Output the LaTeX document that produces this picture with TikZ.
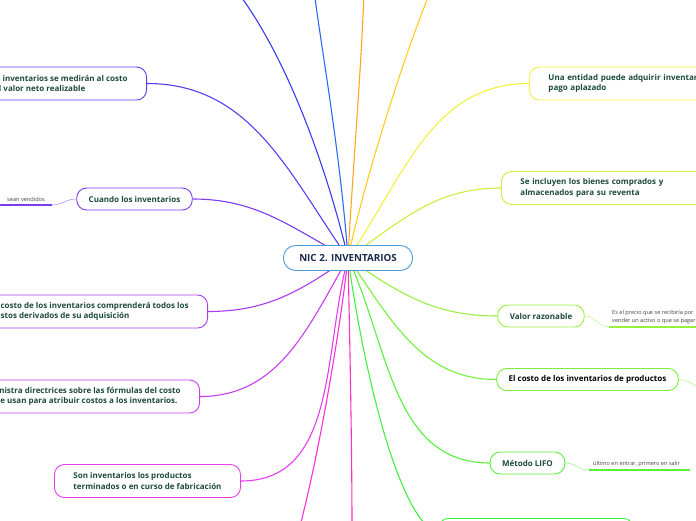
\documentclass[tikz,border=0pt]{standalone}
\usepackage{fontspec}
\setmainfont{Open Sans}
\usetikzlibrary{positioning}

\definecolor{txtgreen}{HTML}{1D4A3C}
\definecolor{txtnavy}{HTML}{1A2A4A}
\definecolor{hubblue}{HTML}{4A9AD8}
\definecolor{cmedir}{HTML}{5A3CF0}
\definecolor{ccuando}{HTML}{7C3CF0}
\definecolor{ccompr}{HTML}{A83CF0}
\definecolor{cformu}{HTML}{C83CF0}
\definecolor{cprod}{HTML}{E63CF0}
\definecolor{cpinka}{HTML}{FF30D8}
\definecolor{cpinkb}{HTML}{FF30C0}
\definecolor{cbottom}{HTML}{40F040}
\definecolor{clifo}{HTML}{58F03C}
\definecolor{ccost}{HTML}{78F03C}
\definecolor{crazon}{HTML}{98F03C}
\definecolor{cbienes}{HTML}{C8F03C}
\definecolor{cpago}{HTML}{F2F23C}
\definecolor{cgold}{HTML}{FFCC22}
\definecolor{corange}{HTML}{FFA620}
\definecolor{cblue}{HTML}{2A6AF8}
\definecolor{cdeep}{HTML}{3A3AF0}

\tikzset{
  topic/.style={draw, fill=white, rounded corners=10pt, line width=0.9pt,
    font=\bfseries\fontsize{8}{10.5}\selectfont, text=txtgreen,
    inner xsep=12pt, inner ysep=2pt, minimum height=22pt},
  longtopic/.style={topic, align=left, inner xsep=19pt, minimum height=33pt},
  link/.style={line width=1.1pt},
  note/.style={font=\fontsize{5.6}{7.6}\selectfont, text=black!75, align=left, inner sep=1pt},
  underline/.style={line width=1.5pt},
}

\begin{document}
\begin{tikzpicture}[x=1pt, y=1pt]
    \useasboundingbox (0,0) rectangle (696,-520);
    \coordinate (hub) at (348,-258);

    % Ramas de la izquierda
    \node[longtopic, draw=cmedir, anchor=east] (medir) at (147,-83.5)
       {Los inventarios se medirán al costo\\o al valor neto realizable};
    \node[topic, draw=ccuando] (cuando) at (134.5,-199) {Cuando los inventarios};
    \node[longtopic, draw=ccompr, anchor=east] (compr) at (208,-311.5)
       {El costo de los inventarios comprenderá todos los\\costos derivados de su adquisición};
    \node[longtopic, draw=cformu, anchor=east] (formu) at (200,-396.5)
       {Suministra directrices sobre las fórmulas del costo\\que se usan para atribuir costos a los inventarios.};
    \node[longtopic, draw=cprod, anchor=west] (prod) at (54,-481)
       {Son inventarios los productos\\terminados o en curso de fabricación};

    % Ramas de la derecha
    \node[longtopic, draw=cpago, anchor=west, text width=200pt] (pago) at (529,-83.5)
       {Una entidad puede adquirir inventarios con\\pago aplazado};
    \node[longtopic, draw=cbienes, anchor=west, text width=190pt] (bienes) at (501,-188)
       {Se incluyen los bienes comprados y\\almacenados para su reventa};
    \node[topic, draw=crazon] (razon) at (541,-316) {Valor razonable};
    \node[topic, draw=ccost, text=black] (costprod) at (587.5,-379.5)
       {El costo de los inventarios de productos};
    \node[topic, draw=clifo] (lifo) at (527.5,-463) {Método LIFO};
    \node[topic, draw=cbottom, anchor=north west, minimum width=195pt, minimum height=30pt]
       (abajo) at (438,-518) {};

    % Subramas
    \node[note, anchor=south west] (vend) at (6,-203) {sean vendidos};
    \coordinate (vendA) at (0,-205);
    \coordinate (vendB) at (52,-205);
    \draw[underline, ccuando] (vendA) -- (vendB);
    \draw[line width=0.6pt, ccuando!55] (vendB) to[out=0, in=180] (cuando.west);

    \node[note, anchor=south west] (precio) at (611,-325)
       {Es el precio que se recibiría por\\vender un activo o que se pagaría por};
    \coordinate (precioA) at (609,-327);
    \coordinate (precioB) at (700,-327);
    \draw[underline, crazon] (precioA) -- (precioB);
    \draw[line width=0.6pt, crazon!55] (razon.east) to[out=0, in=180] (precioA);

    \node[note, anchor=south west] (salir) at (592,-468) {último en entrar, primero en salir};
    \coordinate (salirA) at (589,-470);
    \coordinate (salirB) at (690,-470);
    \draw[underline, clifo] (salirA) -- (salirB);
    \draw[line width=0.6pt, clifo!55] (lifo.east) to[out=0, in=180] (salirA);

    \coordinate (costsub) at (712,-392);
    \draw[line width=0.6pt, ccost!55] (costprod.east) to[out=0, in=180] (costsub);

    % Conectores hacia el centro
    \coordinate (arribaA) at (236,10);
    \coordinate (arribaB) at (314,10);
    \coordinate (arribaC) at (364,10);
    \coordinate (arribaD) at (431,10);
    \coordinate (abajoA) at (299,-530);
    \coordinate (abajoB) at (352,-530);
    \draw[link, cdeep] (hub) .. controls (330,-180) and (290,-60) .. (arribaA);
    \draw[link, cblue] (hub) .. controls (340,-150) and (320,-40) .. (arribaB);
    \draw[link, corange] (hub) .. controls (352,-180) and (362,-60) .. (arribaC);
    \draw[link, cgold] (hub) .. controls (362,-190) and (402,-60) .. (arribaD);
    \draw[link, cpago] (hub) to[out=55, in=180] (pago.west);
    \draw[link, cbienes] (hub) to[out=35, in=180] (bienes.west);
    \draw[link, crazon] (hub) to[out=-35, in=180] (razon.west);
    \draw[link, ccost] (hub) to[out=-55, in=180] (costprod.west);
    \draw[link, clifo] (hub) to[out=-65, in=180] (lifo.west);
    \draw[link, cbottom] (hub) .. controls (365,-380) and (400,-520) .. (abajo.west);
    \draw[link, cpinkb] (hub) .. controls (350,-350) and (352,-450) .. (abajoB);
    \draw[link, cpinka] (hub) .. controls (340,-330) and (320,-450) .. (abajoA);
    \draw[link, cprod] (hub) to[out=-105, in=0] (prod.east);
    \draw[link, cformu] (hub) to[out=-120, in=0] (formu.east);
    \draw[link, ccompr] (hub) to[out=-145, in=0] (compr.east);
    \draw[link, ccuando] (hub) to[out=152, in=0] (cuando.east);
    \draw[link, cmedir] (hub) to[out=125, in=0] (medir.east);

    % Nodo central
    \node[topic, draw=hubblue, text=txtnavy, rounded corners=12pt, minimum width=129pt,
          minimum height=25pt, font=\bfseries\fontsize{9.8}{12}\selectfont] (nic) at (hub)
       {NIC 2. INVENTARIOS};
\end{tikzpicture}
\end{document}
